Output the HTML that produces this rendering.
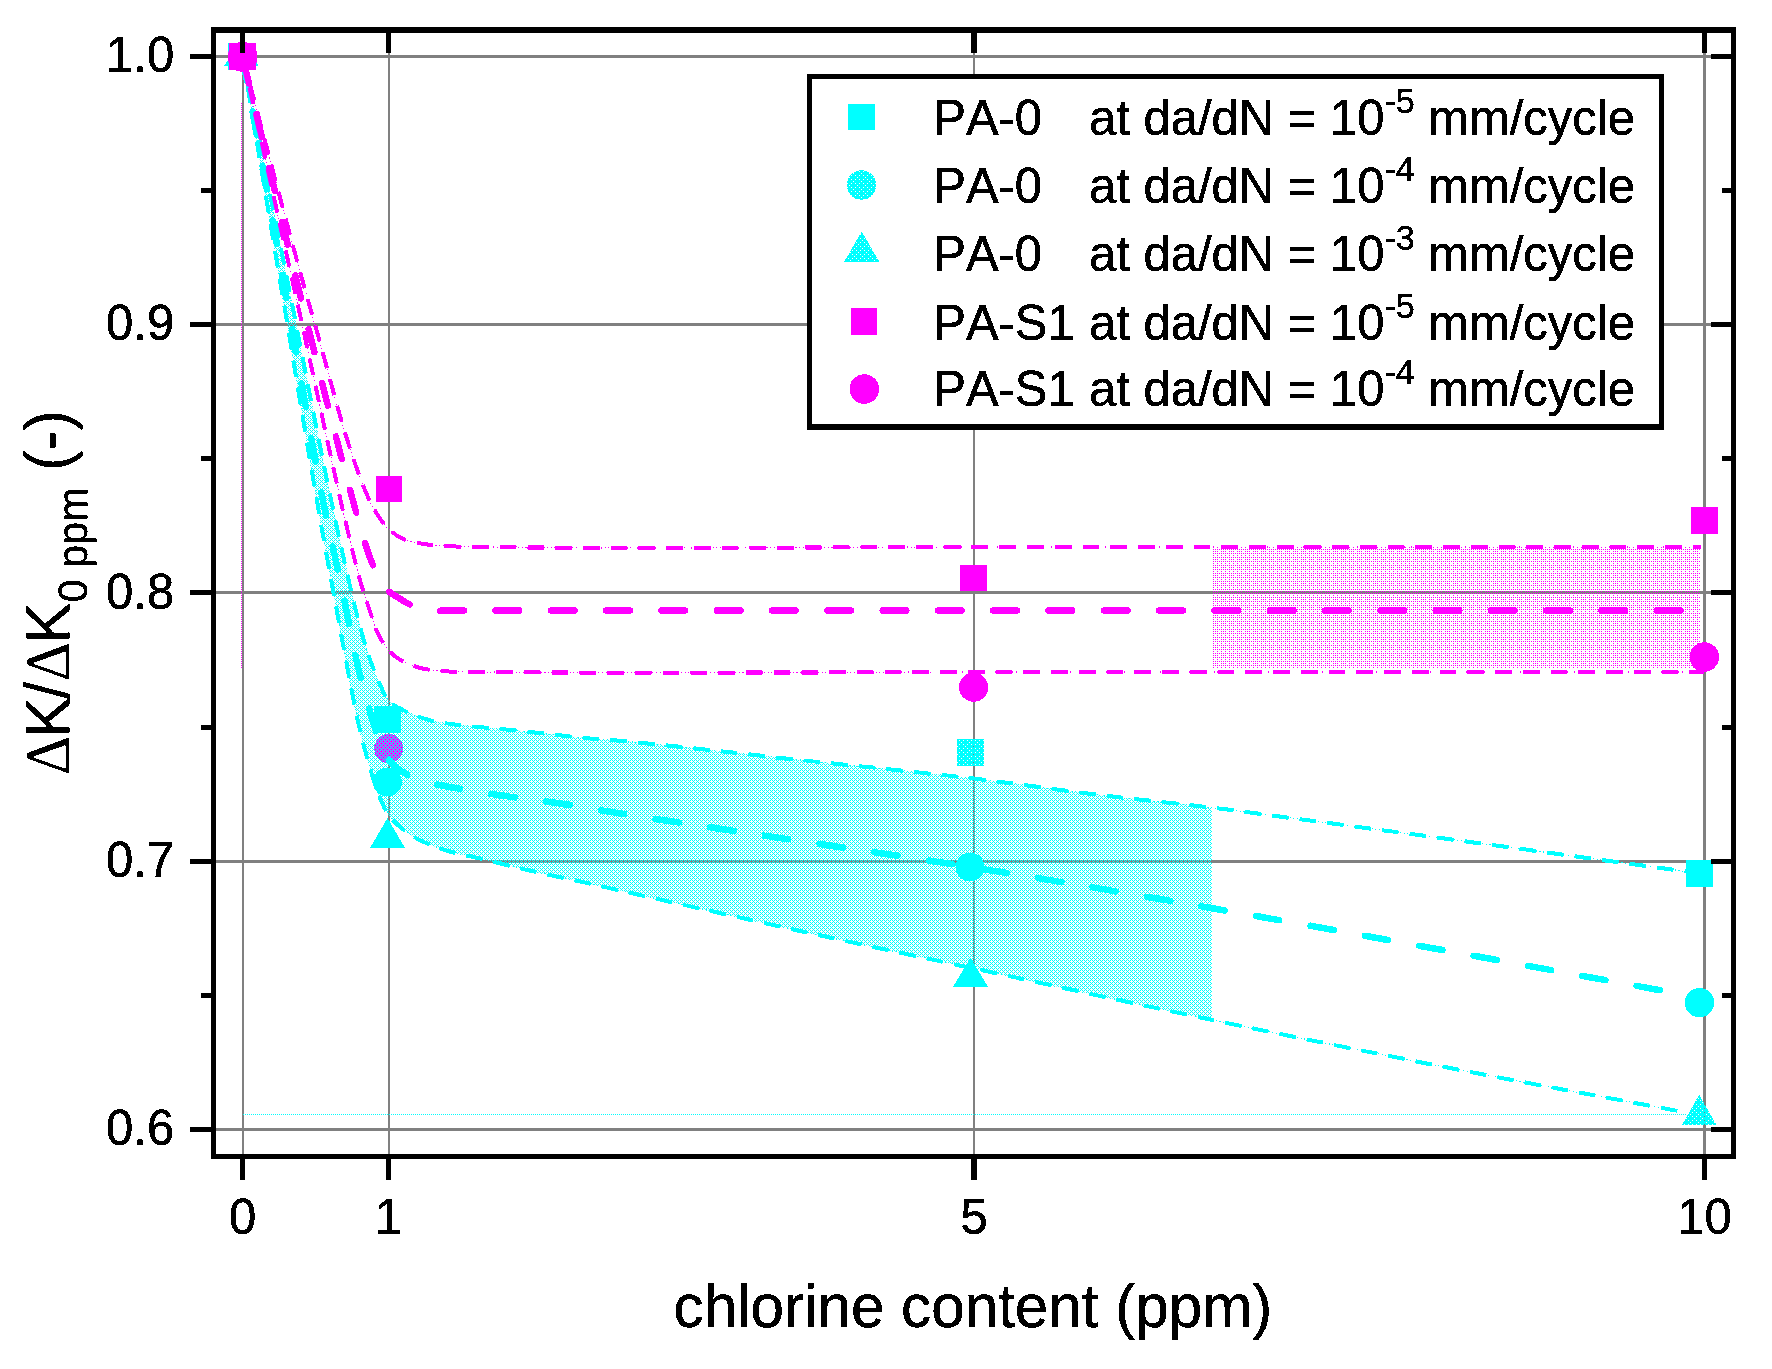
<!DOCTYPE html>
<html lang="en"><head><meta charset="utf-8"><title>chlorine content chart</title>
<style>html,body{margin:0;padding:0;background:#fff}body{width:1772px;height:1369px;overflow:hidden}svg{display:block}text{font-family:"Liberation Sans",Arial,sans-serif;fill:#000;stroke:#000;stroke-width:0.45px;font-kerning:none;font-variant-ligatures:none}.dl{font-family:"Liberation Serif","DejaVu Serif",serif;stroke:none}</style></head><body>
<svg width="1772" height="1369" viewBox="0 0 1772 1369">
<defs>
<pattern id="pc" patternUnits="userSpaceOnUse" width="4" height="4" shape-rendering="crispEdges">
<rect x="0" y="0" width="1" height="1" fill="#00ffff"/>
<rect x="2" y="0" width="1" height="1" fill="#00ffff"/>
<rect x="1" y="1" width="1" height="1" fill="#00ffff"/>
<rect x="0" y="2" width="1" height="1" fill="#00ffff"/>
<rect x="2" y="2" width="1" height="1" fill="#00ffff"/>
<rect x="3" y="3" width="1" height="1" fill="#00ffff"/>
</pattern>
<pattern id="pm" patternUnits="userSpaceOnUse" width="8" height="8" x="5" y="7" shape-rendering="crispEdges">
<rect x="0" y="0" width="1" height="1" fill="#ff00ff"/>
<rect x="2" y="0" width="1" height="1" fill="#ff00ff"/>
<rect x="4" y="0" width="1" height="1" fill="#ff00ff"/>
<rect x="0" y="2" width="1" height="1" fill="#ff00ff"/>
<rect x="2" y="2" width="1" height="1" fill="#ff00ff"/>
<rect x="4" y="2" width="1" height="1" fill="#ff00ff"/>
<rect x="6" y="2" width="1" height="1" fill="#ff00ff"/>
<rect x="0" y="4" width="1" height="1" fill="#ff00ff"/>
<rect x="4" y="4" width="1" height="1" fill="#ff00ff"/>
<rect x="0" y="6" width="1" height="1" fill="#ff00ff"/>
<rect x="2" y="6" width="1" height="1" fill="#ff00ff"/>
<rect x="4" y="6" width="1" height="1" fill="#ff00ff"/>
<rect x="6" y="6" width="1" height="1" fill="#ff00ff"/>
</pattern>
<pattern id="ph1" patternUnits="userSpaceOnUse" width="8" height="8" x="7" y="4" shape-rendering="crispEdges">
<rect x="1" y="0" width="3" height="1" fill="#00ffff"/>
<rect x="5" y="0" width="3" height="1" fill="#00ffff"/>
<rect x="0" y="1" width="8" height="1" fill="#00ffff"/>
<rect x="0" y="2" width="2" height="1" fill="#00ffff"/>
<rect x="3" y="2" width="5" height="1" fill="#00ffff"/>
<rect x="0" y="3" width="8" height="1" fill="#00ffff"/>
<rect x="1" y="4" width="3" height="1" fill="#00ffff"/>
<rect x="5" y="4" width="3" height="1" fill="#00ffff"/>
<rect x="0" y="5" width="8" height="1" fill="#00ffff"/>
<rect x="0" y="6" width="6" height="1" fill="#00ffff"/>
<rect x="7" y="6" width="1" height="1" fill="#00ffff"/>
<rect x="0" y="7" width="8" height="1" fill="#00ffff"/>
</pattern>
<pattern id="ph2" patternUnits="userSpaceOnUse" width="8" height="8" x="3" y="3" shape-rendering="crispEdges">
<rect x="1" y="0" width="3" height="1" fill="#00ffff"/>
<rect x="5" y="0" width="3" height="1" fill="#00ffff"/>
<rect x="0" y="1" width="8" height="1" fill="#00ffff"/>
<rect x="0" y="2" width="2" height="1" fill="#00ffff"/>
<rect x="3" y="2" width="5" height="1" fill="#00ffff"/>
<rect x="0" y="3" width="8" height="1" fill="#00ffff"/>
<rect x="1" y="4" width="3" height="1" fill="#00ffff"/>
<rect x="5" y="4" width="3" height="1" fill="#00ffff"/>
<rect x="0" y="5" width="8" height="1" fill="#00ffff"/>
<rect x="0" y="6" width="6" height="1" fill="#00ffff"/>
<rect x="7" y="6" width="1" height="1" fill="#00ffff"/>
<rect x="0" y="7" width="8" height="1" fill="#00ffff"/>
</pattern>
<pattern id="ph3" patternUnits="userSpaceOnUse" width="8" height="8" x="4" y="6" shape-rendering="crispEdges">
<rect x="1" y="0" width="3" height="1" fill="#00ffff"/>
<rect x="5" y="0" width="3" height="1" fill="#00ffff"/>
<rect x="0" y="1" width="8" height="1" fill="#00ffff"/>
<rect x="0" y="2" width="2" height="1" fill="#00ffff"/>
<rect x="3" y="2" width="5" height="1" fill="#00ffff"/>
<rect x="0" y="3" width="8" height="1" fill="#00ffff"/>
<rect x="1" y="4" width="3" height="1" fill="#00ffff"/>
<rect x="5" y="4" width="3" height="1" fill="#00ffff"/>
<rect x="0" y="5" width="8" height="1" fill="#00ffff"/>
<rect x="0" y="6" width="6" height="1" fill="#00ffff"/>
<rect x="7" y="6" width="1" height="1" fill="#00ffff"/>
<rect x="0" y="7" width="8" height="1" fill="#00ffff"/>
</pattern>
<pattern id="ph4" patternUnits="userSpaceOnUse" width="8" height="8" x="4" y="4" shape-rendering="crispEdges">
<rect x="1" y="0" width="3" height="1" fill="#00ffff"/>
<rect x="5" y="0" width="3" height="1" fill="#00ffff"/>
<rect x="0" y="1" width="8" height="1" fill="#00ffff"/>
<rect x="0" y="2" width="2" height="1" fill="#00ffff"/>
<rect x="3" y="2" width="5" height="1" fill="#00ffff"/>
<rect x="0" y="3" width="8" height="1" fill="#00ffff"/>
<rect x="1" y="4" width="3" height="1" fill="#00ffff"/>
<rect x="5" y="4" width="3" height="1" fill="#00ffff"/>
<rect x="0" y="5" width="8" height="1" fill="#00ffff"/>
<rect x="0" y="6" width="6" height="1" fill="#00ffff"/>
<rect x="7" y="6" width="1" height="1" fill="#00ffff"/>
<rect x="0" y="7" width="8" height="1" fill="#00ffff"/>
</pattern>
<filter id="al" filterUnits="userSpaceOnUse" x="0" y="0" width="1772" height="1369" color-interpolation-filters="sRGB"><feComponentTransfer><feFuncA type="discrete" tableValues="0 1"/></feComponentTransfer></filter>
</defs>
<rect x="0" y="0" width="1772" height="1369" fill="#fff"/>
<g fill="#808080" shape-rendering="crispEdges">
<rect x="242" y="33" width="2" height="1121"/>
<rect x="388" y="33" width="2" height="1121"/>
<rect x="973" y="33" width="2" height="1121"/>
<rect x="1703" y="33" width="3" height="1121"/>
<rect x="216" y="55" width="1515" height="3"/>
<rect x="216" y="323" width="1515" height="3"/>
<rect x="216" y="591" width="1515" height="3"/>
<rect x="216" y="860" width="1515" height="3"/>
<rect x="216" y="1128" width="1515" height="3"/>
</g>
<g filter="url(#al)"><circle cx="388.7" cy="748.6" r="14.5" fill="#ff00ff"/></g>
<polygon fill="url(#pc)" points="242.5,56.5 246.6,76.8 250.6,97.1 254.7,117.4 258.7,137.7 262.8,158.0 266.9,178.2 270.9,198.5 275.0,218.8 279.0,239.1 283.1,259.4 287.1,279.7 291.2,300.0 294.5,316.7 297.8,333.4 301.1,350.1 304.4,366.9 307.7,383.6 310.9,400.3 314.2,417.0 317.6,433.7 320.9,450.4 324.3,467.1 327.7,483.8 331.2,500.5 332.8,508.2 334.4,515.8 336.1,523.5 337.7,531.2 339.4,538.8 341.1,546.5 342.7,554.1 344.5,561.8 346.2,569.4 347.9,577.0 349.7,584.7 351.5,592.3 352.4,596.0 353.2,599.6 354.1,603.3 355.0,607.0 355.9,610.6 356.8,614.3 357.7,617.9 358.7,621.6 359.6,625.2 360.6,628.8 361.6,632.5 362.6,636.1 363.2,638.3 363.9,640.4 364.5,642.6 365.1,644.7 365.8,646.9 366.5,649.0 367.2,651.2 367.9,653.3 368.6,655.4 369.3,657.6 370.0,659.7 370.8,661.8 371.6,664.0 372.4,666.1 373.2,668.3 374.0,670.5 374.8,672.6 375.7,674.8 376.6,676.9 377.5,679.1 378.4,681.2 379.3,683.3 380.3,685.4 381.3,687.5 381.9,688.7 382.5,690.0 383.1,691.2 383.6,692.4 384.2,693.7 384.9,694.9 385.5,696.1 386.2,697.2 386.9,698.4 387.7,699.5 388.6,700.5 389.5,701.5 390.8,702.7 392.1,703.8 393.5,704.9 395.0,705.8 396.5,706.7 398.1,707.6 399.7,708.4 401.3,709.2 402.9,710.0 404.5,710.7 406.1,711.5 407.7,712.2 409.6,713.1 411.5,713.9 413.5,714.7 415.4,715.5 417.4,716.2 419.4,717.0 421.3,717.6 423.3,718.3 425.3,718.9 427.4,719.5 429.4,720.1 431.4,720.6 433.6,721.1 435.9,721.6 438.1,722.1 440.3,722.5 442.6,722.8 444.9,723.2 447.1,723.5 449.4,723.8 451.7,724.1 454.0,724.3 456.2,724.6 458.5,724.9 461.0,725.2 463.6,725.5 466.1,725.8 468.7,726.0 471.2,726.3 473.7,726.5 476.3,726.7 478.8,727.0 481.4,727.2 483.9,727.4 486.5,727.7 489.0,727.9 491.5,728.1 494.1,728.4 496.6,728.6 499.1,728.9 501.7,729.1 504.2,729.3 506.7,729.6 509.3,729.8 511.8,730.0 514.3,730.3 516.9,730.5 519.4,730.8 522.0,731.1 524.5,731.3 527.1,731.6 529.6,731.9 532.2,732.2 534.7,732.5 537.3,732.8 539.8,733.0 542.4,733.3 544.9,733.6 547.5,733.9 550.0,734.2 552.5,734.5 555.1,734.8 557.6,735.1 560.1,735.4 562.7,735.7 565.2,736.0 567.7,736.2 570.3,736.5 572.8,736.8 575.3,737.1 577.9,737.3 580.4,737.6 583.7,737.9 587.0,738.2 590.3,738.5 593.6,738.7 596.9,739.0 600.2,739.2 603.5,739.5 606.8,739.7 610.1,740.0 613.4,740.2 616.7,740.5 620.0,740.8 635.0,742.2 650.0,743.7 665.0,745.3 680.0,746.9 695.0,748.5 710.0,750.1 725.0,751.8 740.0,753.4 755.0,755.1 770.0,756.7 785.0,758.4 800.0,760.0 814.5,761.5 829.0,763.1 843.5,764.6 858.0,766.0 872.5,767.5 887.0,769.0 901.5,770.6 916.0,772.1 930.5,773.7 944.9,775.3 959.4,776.9 973.9,778.6 984.4,779.9 994.9,781.2 1005.4,782.5 1015.9,783.9 1026.5,785.3 1037.0,786.8 1047.5,788.2 1058.0,789.6 1068.5,791.0 1079.0,792.4 1089.5,793.7 1100.0,795.0 1109.4,796.1 1118.8,797.2 1128.1,798.3 1137.5,799.3 1146.9,800.3 1156.3,801.3 1165.7,802.4 1175.1,803.4 1184.5,804.4 1193.8,805.5 1203.2,806.6 1212.0,807.7 1212.0,1020.0 1192.7,1015.8 1172.8,1011.6 1152.9,1007.3 1133.0,1003.1 1113.1,998.8 1093.2,994.4 1073.3,990.1 1053.4,985.8 1033.6,981.4 1013.7,977.1 993.8,972.8 973.9,968.5 959.4,965.4 944.9,962.3 930.4,959.2 915.9,956.1 901.4,953.0 886.9,949.8 872.4,946.7 857.9,943.6 843.5,940.5 829.0,937.3 814.5,934.2 800.0,931.0 786.7,928.1 773.3,925.1 760.0,922.1 746.6,919.1 733.3,916.1 720.0,913.1 706.6,910.1 693.3,907.1 680.0,904.0 666.7,901.0 653.3,898.0 640.0,895.0 635.3,893.9 630.6,892.9 626.0,891.8 621.3,890.8 616.6,889.7 611.9,888.6 607.2,887.6 602.5,886.5 597.9,885.4 593.2,884.4 588.5,883.3 583.8,882.3 579.3,881.3 574.8,880.3 570.2,879.3 565.7,878.4 561.2,877.4 556.7,876.5 552.2,875.5 547.6,874.5 543.1,873.5 538.6,872.5 534.1,871.5 529.6,870.5 525.5,869.5 521.4,868.6 517.3,867.6 513.2,866.6 509.1,865.6 505.0,864.6 500.9,863.6 496.9,862.6 492.8,861.6 488.7,860.6 484.6,859.6 480.5,858.6 477.8,858.0 475.1,857.4 472.4,856.8 469.7,856.2 467.0,855.6 464.3,855.1 461.6,854.5 458.9,853.8 456.3,853.2 453.6,852.5 450.9,851.8 448.3,851.0 445.9,850.2 443.4,849.5 441.0,848.7 438.5,847.8 436.1,847.0 433.7,846.1 431.3,845.2 428.9,844.2 426.6,843.3 424.2,842.2 421.9,841.1 419.6,840.0 418.1,839.2 416.6,838.4 415.2,837.6 413.7,836.7 412.3,835.8 410.8,834.9 409.4,834.0 408.0,833.0 406.7,832.0 405.3,831.0 403.9,830.0 402.6,829.0 401.5,828.2 400.5,827.3 399.4,826.5 398.4,825.6 397.4,824.7 396.4,823.8 395.4,822.9 394.4,822.0 393.5,821.0 392.6,820.0 391.7,819.0 390.8,818.0 390.0,817.0 389.3,816.0 388.6,815.0 387.9,814.0 387.3,812.9 386.6,811.9 386.0,810.8 385.4,809.7 384.8,808.6 384.3,807.5 383.7,806.4 383.2,805.3 381.8,802.3 380.5,799.3 379.3,796.2 378.1,793.1 377.0,790.0 375.9,786.9 374.9,783.8 373.9,780.6 372.9,777.5 371.9,774.3 371.0,771.2 370.0,768.0 368.9,764.3 367.8,760.7 366.8,757.0 365.8,753.3 364.8,749.6 363.9,746.0 362.9,742.3 362.0,738.5 361.1,734.8 360.2,731.1 359.4,727.4 358.5,723.7 358.0,721.4 357.4,719.1 356.9,716.7 356.4,714.4 356.0,712.1 355.5,709.7 355.0,707.4 354.5,705.1 354.1,702.7 353.6,700.4 353.2,698.0 352.7,695.7 351.8,691.0 350.9,686.4 350.0,681.7 349.1,677.0 348.2,672.3 347.3,667.7 346.4,663.0 345.6,658.3 344.7,653.6 343.8,649.0 343.0,644.3 342.1,639.6 341.4,635.7 340.6,631.7 339.9,627.8 339.2,623.8 338.4,619.9 337.7,616.0 337.0,612.0 336.3,608.1 335.6,604.1 334.8,600.2 334.1,596.2 333.4,592.3 332.0,584.7 330.6,577.0 329.2,569.4 327.8,561.7 326.4,554.1 325.1,546.4 323.7,538.8 322.3,531.1 320.9,523.5 319.6,515.8 318.2,508.2 316.9,500.5 314.0,483.8 311.2,467.1 308.3,450.4 305.5,433.7 302.7,417.0 300.0,400.3 297.2,383.6 294.4,366.8 291.6,350.1 288.9,333.4 286.1,316.7 283.3,300.0 279.9,279.7 276.5,259.4 273.1,239.1 269.7,218.8 266.3,198.5 262.9,178.3 259.5,158.0 256.1,137.7 252.7,117.4 249.3,97.1 245.9,76.8 242.5,56.5"/>
<rect x="1213" y="547" width="488" height="122" fill="url(#pm)"/>
<line x1="241.5" y1="103" x2="241.5" y2="668" stroke="#ff00ff" stroke-width="1" stroke-dasharray="1 1" shape-rendering="crispEdges"/>
<line x1="243" y1="1114.5" x2="1686" y2="1114.5" stroke="#00ffff" stroke-width="1" stroke-dasharray="1 1" shape-rendering="crispEdges"/>
<g filter="url(#al)">
<path d="M242.5 56.5 C258.7 137.7 275.0 218.8 291.2 300.0 C304.5 366.8 317.2 433.8 331.2 500.5 C337.6 531.2 344.3 561.8 351.5 592.3 C355.0 607.0 358.5 621.6 362.6 636.1 C365.1 644.7 367.7 653.3 370.8 661.8 C374.0 670.5 377.2 679.2 381.3 687.5 C383.7 692.3 385.7 697.7 389.5 701.5 C394.5 706.5 401.3 709.2 407.7 712.2 C415.3 715.7 423.3 718.5 431.4 720.6 C440.3 722.9 449.4 723.7 458.5 724.9 C468.6 726.2 478.8 726.9 489.0 727.9 C499.1 728.9 509.3 729.8 519.4 730.8 C529.6 731.9 539.8 733.1 550.0 734.2 C560.1 735.3 570.3 736.6 580.4 737.6 C593.6 738.9 606.8 739.6 620.0 740.8 C680.1 746.4 740.0 753.6 800.0 760.0 C858.0 766.2 916.0 771.7 973.9 778.6 C1016.0 783.6 1057.9 789.9 1100.0 795.0 C1137.5 799.6 1175.1 803.1 1212.6 807.7 C1241.8 811.3 1270.9 815.3 1300.0 819.2 C1366.7 828.1 1433.3 837.0 1500.0 846.0 C1562.0 854.4 1624.0 863.0 1686.0 871.5" stroke="#00ffff" fill="none" stroke-width="1.1" stroke-dasharray="1.2 2.4"/>
<path d="M242.5 56.5 C256.1 137.7 269.7 218.8 283.3 300.0 C294.5 366.8 305.3 433.7 316.9 500.5 C322.2 531.1 327.8 561.7 333.4 592.3 C336.3 608.1 339.2 623.8 342.1 639.6 C345.6 658.3 349.0 677.0 352.7 695.7 C354.6 705.0 356.3 714.4 358.5 723.7 C362.0 738.6 365.5 753.4 370.0 768.0 C373.9 780.6 377.6 793.4 383.2 805.3 C385.3 809.8 387.7 814.2 390.8 818.0 C394.2 822.2 398.4 825.7 402.6 829.0 C407.9 833.2 413.6 836.9 419.6 840.0 C428.7 844.6 438.5 848.0 448.3 851.0 C458.8 854.2 469.8 856.0 480.5 858.6 C496.9 862.5 513.2 866.7 529.6 870.5 C547.6 874.6 565.7 878.3 583.8 882.3 C602.5 886.5 621.3 890.8 640.0 895.0 C693.3 907.0 746.6 919.2 800.0 931.0 C857.9 943.8 915.9 956.0 973.9 968.5 C1053.5 985.7 1132.9 1003.4 1212.6 1020.0 C1291.6 1036.5 1370.8 1052.5 1450.0 1068.0 C1526.2 1082.9 1602.7 1096.8 1679.0 1111.2" stroke="#00ffff" fill="none" stroke-width="1.1" stroke-dasharray="1.2 2.4"/>
<path d="M242.5 56.5 C266.7 145.9 289.3 235.8 315.0 324.8 C331.8 382.9 344.6 442.7 368.5 498.4 C371.2 504.6 374.7 510.4 378.4 516.0 C381.5 520.6 384.6 525.4 388.7 529.2 C393.2 533.4 398.4 536.9 404.0 539.4 C409.7 541.9 416.1 542.8 422.3 543.8 C431.9 545.4 441.7 545.8 451.5 546.3 C461.0 546.8 470.5 546.9 480.0 547.0 C653.3 549.1 826.7 547.0 1000.0 547.0 C1233.7 547.0 1467.3 547.0 1701.0 547.0" stroke="#ff00ff" fill="none" stroke-width="1.1" stroke-dasharray="1.2 2.4"/>
<path d="M242.5 56.5 C262.4 145.9 282.5 235.3 302.2 324.8 C315.1 383.1 327.3 441.7 340.5 500.0 C342.6 509.3 344.8 518.5 347.0 527.8 C349.2 537.0 351.3 546.3 353.6 555.5 C355.9 564.8 358.2 574.1 360.9 583.3 C363.3 591.6 366.1 599.9 368.9 608.1 C371.9 616.9 374.3 626.0 378.4 634.4 C381.2 640.1 384.5 645.7 388.7 650.5 C392.0 654.2 396.1 657.5 400.4 660.0 C406.7 663.7 413.7 666.2 420.8 668.0 C429.9 670.3 439.3 670.7 448.6 671.4 C459.0 672.1 469.5 671.9 480.0 672.0 C653.3 673.7 826.7 672.0 1000.0 672.0 C1234.7 672.0 1469.3 672.0 1704.0 672.0" stroke="#ff00ff" fill="none" stroke-width="1.1" stroke-dasharray="1.2 2.4"/>
<path d="M242.5 56.5 C258.7 137.7 275.0 218.8 291.2 300.0 C304.5 366.8 317.2 433.8 331.2 500.5 C337.6 531.2 344.3 561.8 351.5 592.3 C355.0 607.0 358.5 621.6 362.6 636.1 C365.1 644.7 367.7 653.3 370.8 661.8 C374.0 670.5 377.2 679.2 381.3 687.5 C383.7 692.3 385.7 697.7 389.5 701.5 C394.5 706.5 401.3 709.2 407.7 712.2 C415.3 715.7 423.3 718.5 431.4 720.6 C440.3 722.9 449.4 723.7 458.5 724.9 C468.6 726.2 478.8 726.9 489.0 727.9 C499.1 728.9 509.3 729.8 519.4 730.8 C529.6 731.9 539.8 733.1 550.0 734.2 C560.1 735.3 570.3 736.6 580.4 737.6 C593.6 738.9 606.8 739.6 620.0 740.8 C680.1 746.4 740.0 753.6 800.0 760.0 C858.0 766.2 916.0 771.7 973.9 778.6 C1016.0 783.6 1057.9 789.9 1100.0 795.0 C1137.5 799.6 1175.1 803.1 1212.6 807.7 C1241.8 811.3 1270.9 815.3 1300.0 819.2 C1366.7 828.1 1433.3 837.0 1500.0 846.0 C1562.0 854.4 1624.0 863.0 1686.0 871.5" stroke="#00ffff" fill="none" stroke-width="4" stroke-dasharray="16.75 11" stroke-linecap="butt" stroke-dashoffset="-1.4"/>
<path d="M242.5 56.5 C256.1 137.7 269.7 218.8 283.3 300.0 C294.5 366.8 305.3 433.7 316.9 500.5 C322.2 531.1 327.8 561.7 333.4 592.3 C336.3 608.1 339.2 623.8 342.1 639.6 C345.6 658.3 349.0 677.0 352.7 695.7 C354.6 705.0 356.3 714.4 358.5 723.7 C362.0 738.6 365.5 753.4 370.0 768.0 C373.9 780.6 377.6 793.4 383.2 805.3 C385.3 809.8 387.7 814.2 390.8 818.0 C394.2 822.2 398.4 825.7 402.6 829.0 C407.9 833.2 413.6 836.9 419.6 840.0 C428.7 844.6 438.5 848.0 448.3 851.0 C458.8 854.2 469.8 856.0 480.5 858.6 C496.9 862.5 513.2 866.7 529.6 870.5 C547.6 874.6 565.7 878.3 583.8 882.3 C602.5 886.5 621.3 890.8 640.0 895.0 C693.3 907.0 746.6 919.2 800.0 931.0 C857.9 943.8 915.9 956.0 973.9 968.5 C1053.5 985.7 1132.9 1003.4 1212.6 1020.0 C1291.6 1036.5 1370.8 1052.5 1450.0 1068.0 C1526.2 1082.9 1602.7 1096.8 1679.0 1111.2" stroke="#00ffff" fill="none" stroke-width="4" stroke-dasharray="16.75 11" stroke-linecap="butt" stroke-dashoffset="-2.9"/>
<path d="M242.5 56.5 C257.3 137.7 272.3 218.8 287.0 300.0 C299.1 366.8 309.9 433.9 323.0 500.5 C329.0 531.2 336.3 561.7 342.7 592.3 C347.9 617.0 352.1 641.9 357.9 666.5 C361.8 682.8 365.9 699.0 371.0 715.0 C375.3 728.6 378.4 743.0 385.7 755.3 C388.6 760.2 392.7 764.4 397.0 768.0 C400.7 771.1 405.0 773.5 409.4 775.6 C415.0 778.3 421.0 780.3 427.0 782.0 C434.5 784.2 442.3 785.5 450.0 787.0 C468.2 790.5 486.6 793.2 505.0 796.0 C523.3 798.7 541.7 800.7 560.0 803.5 C580.0 806.5 600.0 810.2 620.0 813.4 C679.9 822.9 740.0 831.8 800.0 841.0 C858.0 849.9 916.0 858.2 973.9 867.6 C1053.6 880.5 1133.1 894.3 1212.6 908.3 C1339.9 930.8 1466.9 954.6 1594.0 978.0 C1629.0 984.4 1664.0 991.0 1699.0 997.5" stroke="#00ffff" fill="none" stroke-width="6.5" stroke-dasharray="23.7 31.6" stroke-linecap="round" stroke-dashoffset="-0.6"/>
<path d="M242.5 56.5 C266.7 145.9 289.3 235.8 315.0 324.8 C331.8 382.9 344.6 442.7 368.5 498.4 C371.2 504.6 374.7 510.4 378.4 516.0 C381.5 520.6 384.6 525.4 388.7 529.2 C393.2 533.4 398.4 536.9 404.0 539.4 C409.7 541.9 416.1 542.8 422.3 543.8 C431.9 545.4 441.7 545.8 451.5 546.3 C461.0 546.8 470.5 546.9 480.0 547.0 C653.3 549.1 826.7 547.0 1000.0 547.0 C1233.7 547.0 1467.3 547.0 1701.0 547.0" stroke="#ff00ff" fill="none" stroke-width="4" stroke-dasharray="16.75 11" stroke-linecap="butt" stroke-dashoffset="-1.1"/>
<path d="M242.5 56.5 C262.4 145.9 282.5 235.3 302.2 324.8 C315.1 383.1 327.3 441.7 340.5 500.0 C342.6 509.3 344.8 518.5 347.0 527.8 C349.2 537.0 351.3 546.3 353.6 555.5 C355.9 564.8 358.2 574.1 360.9 583.3 C363.3 591.6 366.1 599.9 368.9 608.1 C371.9 616.9 374.3 626.0 378.4 634.4 C381.2 640.1 384.5 645.7 388.7 650.5 C392.0 654.2 396.1 657.5 400.4 660.0 C406.7 663.7 413.7 666.2 420.8 668.0 C429.9 670.3 439.3 670.7 448.6 671.4 C459.0 672.1 469.5 671.9 480.0 672.0 C653.3 673.7 826.7 672.0 1000.0 672.0 C1234.7 672.0 1469.3 672.0 1704.0 672.0" stroke="#ff00ff" fill="none" stroke-width="4" stroke-dasharray="16.75 11" stroke-linecap="butt" stroke-dashoffset="-4.3"/>
<path d="M242.5 56.5 C264.2 145.9 285.2 235.5 307.5 324.8 C322.2 383.3 336.8 441.8 352.8 500.0 C357.7 517.6 362.1 535.4 368.2 552.6 C371.0 560.6 374.1 568.5 378.0 576.0 C380.3 580.5 382.5 585.3 386.0 589.0 C389.4 592.6 393.9 594.8 398.0 597.5 C401.8 600.0 405.7 602.5 409.8 604.5 C413.1 606.1 416.5 607.6 420.0 608.5 C423.9 609.5 428.0 610.0 432.0 610.3 C441.3 611.0 450.7 610.4 460.0 610.4 C640.0 610.7 820.0 610.4 1000.0 610.4 C1228.0 610.4 1456.0 610.4 1684.0 610.4" stroke="#ff00ff" fill="none" stroke-width="6.5" stroke-dasharray="23.7 31.6" stroke-linecap="round" stroke-dashoffset="-4.0"/>
<polygon points="241.3,39.0 258.6,66.0 224.0,66.0" fill="#00ffff"/>
<rect x="228.0" y="43.0" width="27.0" height="27.0" fill="#00ffff" shape-rendering="crispEdges"/>
<rect x="374.0" y="705.5" width="27.0" height="27.0" fill="#00ffff" shape-rendering="crispEdges"/>
<circle cx="387.4" cy="782.0" r="14.5" fill="#00ffff"/>
<polygon points="387.5,818.0 405.0,848.0 370.0,848.0" fill="#00ffff"/>
<rect x="957.0" y="739.0" width="27.0" height="27.0" fill="url(#ph1)" shape-rendering="crispEdges"/>
<circle cx="970.0" cy="867.0" r="14.5" fill="#00ffff"/>
<polygon points="970.5,957.4 988.0,987.0 953.0,987.0" fill="#00ffff"/>
<rect x="1686.0" y="860.2" width="27.0" height="27.0" fill="#00ffff" shape-rendering="crispEdges"/>
<circle cx="1699.5" cy="1002.7" r="14.7" fill="#00ffff"/>
<polygon points="1699.2,1094.8 1716.4,1125.0 1682.0,1125.0" fill="url(#ph4)"/>
<rect x="229.0" y="43.0" width="27.0" height="27.0" fill="#ff00ff" shape-rendering="crispEdges"/>
<circle cx="242.5" cy="56.8" r="15.0" fill="#ff00ff"/>
<rect x="376.1" y="475.9" width="26.0" height="26.0" fill="#ff00ff" shape-rendering="crispEdges"/>
<rect x="960.4" y="564.8" width="26.5" height="26.5" fill="#ff00ff" shape-rendering="crispEdges"/>
<circle cx="973.6" cy="687.2" r="14.6" fill="#ff00ff"/>
<rect x="1691.0" y="506.9" width="27.0" height="27.0" fill="#ff00ff" shape-rendering="crispEdges"/>
<circle cx="1704.3" cy="657.0" r="14.7" fill="#ff00ff"/>
</g>
<g fill="#000" shape-rendering="crispEdges">
<rect x="211" y="27" width="1525" height="6"/>
<rect x="211" y="1154" width="1525" height="5"/>
<rect x="211" y="27" width="5" height="1132"/>
<rect x="1731" y="27" width="5" height="1132"/>
<rect x="240" y="33" width="5" height="20"/>
<rect x="240" y="1159" width="5" height="21"/>
<rect x="386" y="33" width="5" height="20"/>
<rect x="386" y="1159" width="5" height="21"/>
<rect x="971" y="33" width="6" height="20"/>
<rect x="971" y="1159" width="6" height="21"/>
<rect x="1702" y="33" width="5" height="20"/>
<rect x="1702" y="1159" width="5" height="21"/>
<rect x="190" y="54" width="21" height="5"/>
<rect x="1711" y="54" width="20" height="5"/>
<rect x="190" y="322" width="21" height="5"/>
<rect x="1711" y="322" width="20" height="5"/>
<rect x="190" y="590" width="21" height="5"/>
<rect x="1711" y="590" width="20" height="5"/>
<rect x="190" y="859" width="21" height="5"/>
<rect x="1711" y="859" width="20" height="5"/>
<rect x="190" y="1127" width="21" height="5"/>
<rect x="1711" y="1127" width="20" height="5"/>
<rect x="201" y="188" width="10" height="5"/>
<rect x="1722" y="188" width="9" height="5"/>
<rect x="201" y="456" width="10" height="5"/>
<rect x="1722" y="456" width="9" height="5"/>
<rect x="201" y="725" width="10" height="5"/>
<rect x="1722" y="725" width="9" height="5"/>
<rect x="201" y="993" width="10" height="5"/>
<rect x="1722" y="993" width="9" height="5"/>
</g>
<g filter="url(#al)">
<text transform="translate(174.2 72.1) scale(1 1.030)" font-size="49" text-anchor="end">1.0</text>
<text transform="translate(174.2 340.3) scale(1 1.030)" font-size="49" text-anchor="end">0.9</text>
<text transform="translate(174.2 608.6) scale(1 1.030)" font-size="49" text-anchor="end">0.8</text>
<text transform="translate(174.2 876.9) scale(1 1.030)" font-size="49" text-anchor="end">0.7</text>
<text transform="translate(174.2 1145.1) scale(1 1.030)" font-size="49" text-anchor="end">0.6</text>
<text transform="translate(242.5 1234.0) scale(1 1.030)" font-size="49" text-anchor="middle">0</text>
<text transform="translate(388.5 1234.0) scale(1 1.030)" font-size="49" text-anchor="middle">1</text>
<text transform="translate(974.0 1234.0) scale(1 1.030)" font-size="49" text-anchor="middle">5</text>
<text transform="translate(1704.5 1234.0) scale(1 1.030)" font-size="49" text-anchor="middle">10</text>
<text transform="translate(973.0 1327.0) scale(1 1.000)" font-size="60.2" text-anchor="middle">chlorine content (ppm)</text>
<text transform="translate(69.7 773.4) rotate(-90) scale(1 1.041)" font-size="61"><tspan class="dl" x="-1.8">&#916;</tspan><tspan x="35.7">K</tspan><tspan x="74.5">/</tspan><tspan class="dl" x="91.9">&#916;</tspan><tspan x="130.1">K</tspan><tspan font-size="41.5" x="170.9" dy="16.9">0 ppm</tspan><tspan x="302.5" dy="-16.9">(-)</tspan></text>
</g>
<g shape-rendering="crispEdges">
<rect x="807" y="74" width="857" height="356" fill="#000"/>
<rect x="812" y="79" width="847" height="345" fill="#fff"/>
</g>
<g filter="url(#al)">
<rect x="848" y="104" width="27" height="26" fill="#00ffff" shape-rendering="crispEdges"/>
<circle cx="861.5" cy="185.0" r="14.7" fill="url(#ph2)"/>
<polygon points="861.7,231.6 879.4,262.0 844.0,262.0" fill="url(#ph3)"/>
<rect x="851" y="308" width="26" height="27" fill="#ff00ff" shape-rendering="crispEdges"/>
<circle cx="864.3" cy="389.0" r="14.8" fill="#ff00ff"/>
<text transform="translate(933.2 135.0) scale(1 1.030)" font-size="49">PA-0</text>
<text transform="translate(1089.0 135.0) scale(1 1.015)" font-size="49">at da/dN = 10<tspan font-size="34" dy="-21.3">-5</tspan><tspan dy="21.3" dx="-0.3"> mm/cycle</tspan></text>
<text transform="translate(933.2 202.9) scale(1 1.030)" font-size="49">PA-0</text>
<text transform="translate(1089.0 202.9) scale(1 1.015)" font-size="49">at da/dN = 10<tspan font-size="34" dy="-21.3">-4</tspan><tspan dy="21.3" dx="-0.3"> mm/cycle</tspan></text>
<text transform="translate(933.2 271.2) scale(1 1.030)" font-size="49">PA-0</text>
<text transform="translate(1089.0 271.2) scale(1 1.015)" font-size="49">at da/dN = 10<tspan font-size="34" dy="-21.3">-3</tspan><tspan dy="21.3" dx="-0.3"> mm/cycle</tspan></text>
<text transform="translate(933.2 339.5) scale(1 1.030)" font-size="49">PA-S1</text>
<text transform="translate(1089.0 339.5) scale(1 1.015)" font-size="49">at da/dN = 10<tspan font-size="34" dy="-21.3">-5</tspan><tspan dy="21.3" dx="-0.3"> mm/cycle</tspan></text>
<text transform="translate(933.2 406.1) scale(1 1.030)" font-size="49">PA-S1</text>
<text transform="translate(1089.0 406.1) scale(1 1.015)" font-size="49">at da/dN = 10<tspan font-size="34" dy="-21.3">-4</tspan><tspan dy="21.3" dx="-0.3"> mm/cycle</tspan></text>
</g>
</svg></body></html>
